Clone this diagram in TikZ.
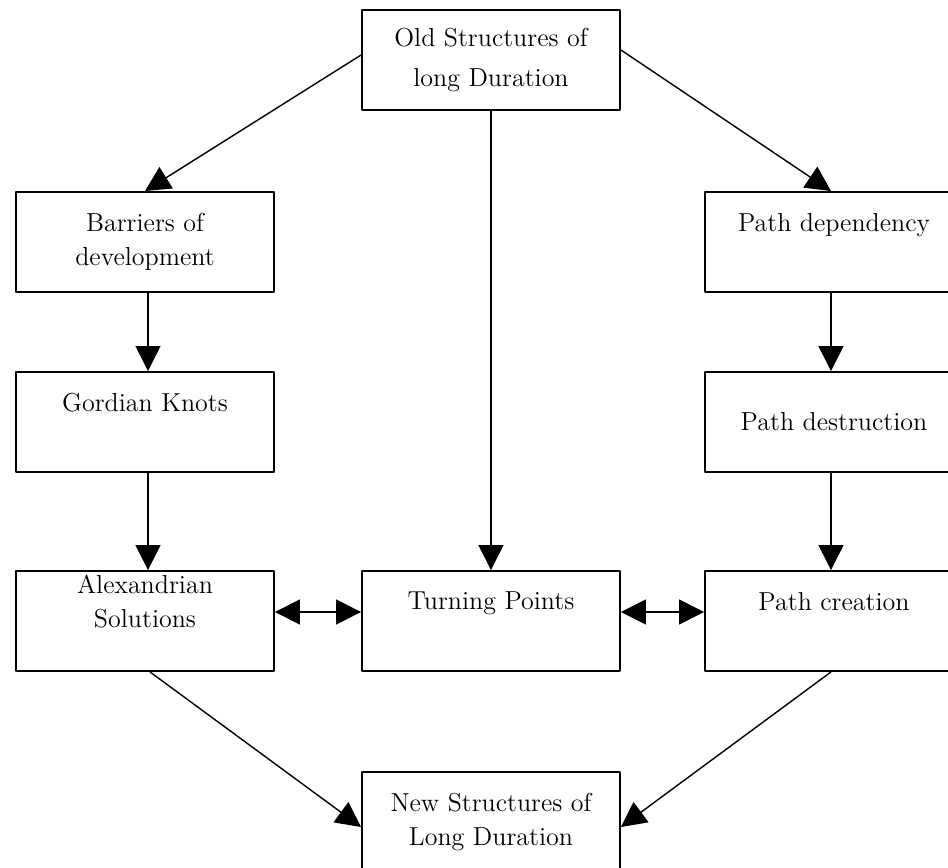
\documentclass[tikz,border=0pt]{standalone}
\usetikzlibrary{arrows.meta}
\begin{document}
\begin{tikzpicture}[x=0.02cm,y=-0.02cm,line join=round,
	kotak/.style={draw,line width=1.1pt,align=center,inner sep=2pt,
		minimum width=5.16cm,minimum height=2cm,
		font=\fontsize{14.8}{19.5}\selectfont},
	naik/.style={text depth=0.8cm},
	panah/.style={line width=0.8pt,-{Triangle[length=0.5cm,width=0.5cm]}},
	panahdua/.style={line width=0.8pt,{Triangle[length=0.5cm,width=0.5cm]}-{Triangle[length=0.5cm,width=0.5cm]}}]
	\useasboundingbox (0,0) rectangle (948,868);
	%==Các hộp
	\node[kotak] (old) at (491,60) {Old Structures of\\[3pt]long Duration};
	\node[kotak] (bar) at (145,242) {Barriers of\\development};
	\node[kotak,naik] (gor) at (145,422) {Gordian Knots};
	\node[kotak,naik] (alx) at (145,621) {Alexandrian\\Solutions};
	\node[kotak,naik] (turn) at (491,621) {Turning Points};
	\node[kotak,naik] (pdep) at (834,242) {Path dependency};
	\node[kotak] (pdes) at (834,422) {Path destruction};
	\node[kotak,naik] (pcre) at (834,621) {Path creation};
	\node[kotak] (new) at (491,822) {New Structures of\\Long Duration};
	%==Mũi tên
	\draw[panah] ([yshift=0.1cm]old.west) -- (bar.north);
	\draw[panah] ([yshift=0.2cm]old.east) -- ([xshift=-0.06cm]pdep.north);
	\draw[panah] (old.south) -- (turn.north);
	\draw[panah] ([xshift=0.06cm]bar.south) -- ([xshift=0.06cm]gor.north);
	\draw[panah] ([xshift=0.06cm]gor.south) -- ([xshift=0.06cm]alx.north);
	\draw[panah] ([xshift=-0.06cm]pdep.south) -- ([xshift=-0.06cm]pdes.north);
	\draw[panah] ([xshift=-0.06cm]pdes.south) -- ([xshift=-0.06cm]pcre.north);
	\draw[panahdua] ([yshift=0.18cm]alx.east) -- ([yshift=0.18cm]turn.west);
	\draw[panahdua] ([yshift=0.18cm]turn.east) -- ([yshift=0.18cm]pcre.west);
	\draw[panah] ([xshift=0.1cm]alx.south) -- ([yshift=-0.1cm]new.west);
	\draw[panah] ([xshift=-0.06cm]pcre.south) -- ([yshift=-0.1cm]new.east);
\end{tikzpicture}
\end{document}
